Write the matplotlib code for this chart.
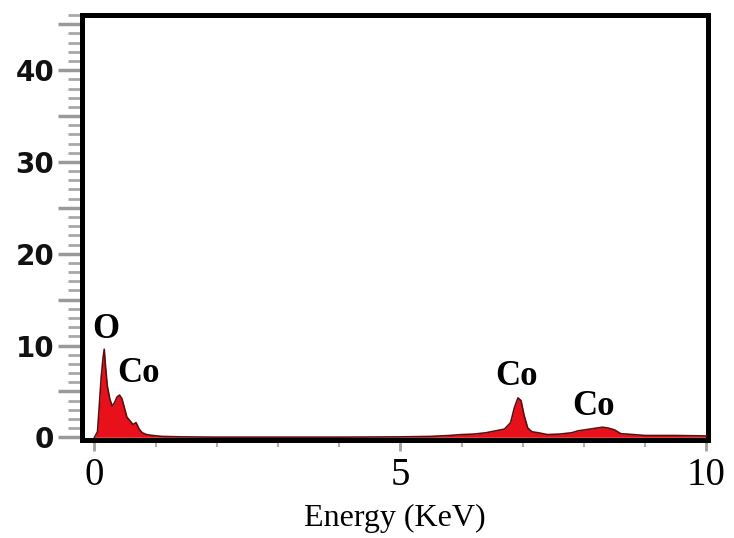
import matplotlib
matplotlib.use("Agg")
import matplotlib.pyplot as plt
from matplotlib.ticker import MultipleLocator, FuncFormatter

# EDS spectrum
energy = [0.0, 0.05, 0.08, 0.11, 0.14, 0.16, 0.18, 0.21, 0.25, 0.29, 0.33,
          0.37, 0.41, 0.45, 0.49, 0.53, 0.58, 0.63, 0.68, 0.73, 0.78, 0.85,
          0.95, 1.1, 1.4, 2.0, 3.0, 4.0, 5.0, 5.5, 5.8, 6.0, 6.2, 6.4, 6.55,
          6.7, 6.8, 6.86, 6.92, 6.97, 7.02, 7.08, 7.15, 7.25, 7.4, 7.6, 7.8,
          7.9, 8.0, 8.1, 8.2, 8.3, 8.4, 8.5, 8.6, 8.8, 9.0, 9.5, 10.0]
counts = [0.0, 0.6, 3.5, 6.5, 8.6, 9.6, 7.8, 5.6, 4.2, 3.4, 3.8,
          4.4, 4.6, 4.2, 3.2, 2.2, 1.8, 1.4, 1.6, 0.9, 0.5, 0.3,
          0.2, 0.1, 0.05, 0.02, 0.02, 0.02, 0.05, 0.1, 0.2, 0.3, 0.35, 0.5, 0.7,
          0.9, 1.6, 3.2, 4.3, 4.0, 2.4, 1.0, 0.6, 0.5, 0.3, 0.35, 0.5,
          0.7, 0.8, 0.9, 1.0, 1.1, 1.0, 0.8, 0.4, 0.3, 0.2, 0.2, 0.15]

peak_labels = ["O", "Co", "Co", "Co"]
label_x = [0.18, 0.72, 6.9, 8.15]
label_y = [11.7, 6.9, 6.6, 3.4]

fig = plt.figure(figsize=(7.34, 5.38), dpi=100)
ax = fig.add_axes([0.112, 0.182, 0.853, 0.79])

ax.fill_between(energy, counts, color="#e8101a", lw=0, zorder=2)
ax.plot(energy, counts, color="#5a1010", lw=1.2, zorder=3)

for t, x, y in zip(peak_labels, label_x, label_y):
    ax.text(x, y, t, ha="center", va="center", fontsize=25,
            family="Liberation Serif", fontweight="bold", zorder=4)

ax.set_xlim(-0.2, 10.03)
ax.set_ylim(-0.3, 46)

for s in ax.spines.values():
    s.set_linewidth(3.6)
    s.set_color("black")

ax.xaxis.set_major_locator(MultipleLocator(5))
ax.xaxis.set_minor_locator(MultipleLocator(1))
ax.yaxis.set_major_locator(MultipleLocator(5))
ax.yaxis.set_minor_locator(MultipleLocator(1))
ax.yaxis.set_major_formatter(
    FuncFormatter(lambda v, p: f"{int(v)}" if int(round(v)) % 10 == 0 else ""))

ax.tick_params(axis="y", which="major", length=17, width=2.5, color="#9a9a9a",
               pad=3, labelsize=20)
ax.tick_params(axis="y", which="minor", length=10, width=2, color="#a8a8a8")
ax.tick_params(axis="x", which="major", length=8, width=2, color="#a0a0a0",
               pad=4, labelsize=28)
ax.tick_params(axis="x", which="minor", length=5, width=1.5, color="#b0b0b0")
for lab in ax.get_yticklabels():
    lab.set_fontweight("bold")
    lab.set_color("#111111")
for lab in ax.get_xticklabels():
    lab.set_family("Liberation Serif")

ax.set_xlabel("Energy (KeV)", family="Liberation Serif", fontsize=23,
              labelpad=7)

fig.savefig("out.png", dpi=100)
